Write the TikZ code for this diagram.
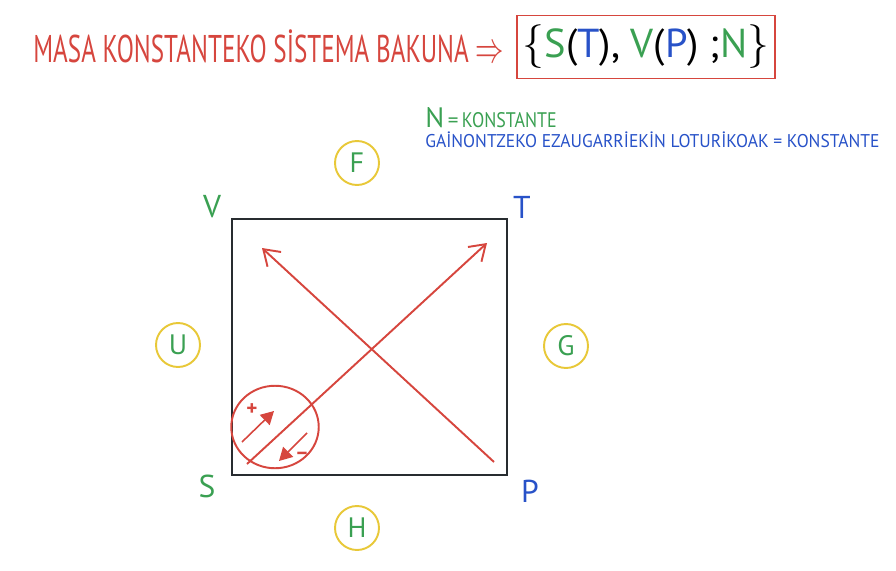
\documentclass[tikz,border=0pt]{standalone}
\usepackage{fontspec}
\usepackage{graphicx}
\setmainfont{PT Sans}
\usetikzlibrary{arrows.meta, positioning, calc, shapes.geometric}
\definecolor{penRed}{RGB}{214,70,62}
\definecolor{penGreen}{RGB}{58,160,82}
\definecolor{penBlue}{RGB}{40,82,200}
\definecolor{penYellow}{RGB}{232,200,56}
\definecolor{penBlack}{RGB}{40,44,48}
\newcommand{\squeeze}[2]{\scalebox{#1}[1]{#2}}
\tikzset{
    potNode/.style={circle, draw=penYellow, line width=1.1pt, minimum size=0.88cm, inner sep=0pt, text=penGreen, font=\fontsize{16}{18}\selectfont},
    cornerLbl/.style={font=\fontsize{18}{20}\selectfont, inner sep=0pt},
    diagArrow/.style={draw=penRed, line width=1.1pt, -{Straight Barb[length=3mm, width=4mm]}},
    signArrow/.style={draw=penRed, line width=0.9pt, -{Triangle[length=2.6mm, width=2.8mm]}}
}

\begin{document}
\begin{tikzpicture}[x=0.02cm, y=-0.02cm]
    \useasboundingbox (0,0) rectangle (896,571);
    % --- Title ---
    \node[anchor=west, text=penRed, inner sep=0pt] (title) at (33,46)
        {\fontsize{22}{24}\selectfont\squeeze{0.65}{MASA KONSTANTEKO SİSTEMA BAKUNA {\fontsize{26}{28}\selectfont$\Rightarrow$}}};
    \node[draw=penRed, line width=1.1pt, inner xsep=3pt, inner ysep=2pt, minimum width=5.08cm, minimum height=1.26cm] (vars) at (646,47)
        {\fontsize{23}{26}\selectfont$\{$\textcolor{penGreen}{S}(\textcolor{penBlue}{T}), \textcolor{penGreen}{V}(\textcolor{penBlue}{P}) ;\textcolor{penGreen}{N}$\}$};
    % --- Notes ---
    \node[anchor=west, text=penGreen, inner sep=0pt] (ncst) at (425,118)
        {\fontsize{16}{18}\selectfont N{\fontsize{12}{14}\selectfont\,=\,\squeeze{0.85}{KONSTANTE}}};
    \node[anchor=west, text=penBlue, inner sep=0pt] (rest) at (425,140)
        {\fontsize{10.5}{12}\selectfont\squeeze{0.95}{GAİNONTZEKO EZAUGARRİEKİN LOTURİKOAK = KONSTANTE}};
    % --- Square ---
    \coordinate (sw) at (232,475); \coordinate (se) at (507,475);
    \coordinate (ne) at (507,219); \coordinate (nw) at (232,219);
    \draw[penBlack, line width=1.7pt] (sw) -- (se) -- (ne) -- (nw) -- cycle;
    \node[cornerLbl, text=penGreen] (V) at (212,207) {V};
    \node[cornerLbl, text=penBlue] (T) at (522,207) {T};
    \node[cornerLbl, text=penGreen] (S) at (207,486) {S};
    \node[cornerLbl, text=penBlue] (P) at (530,491) {P};
    % --- Potentials ---
    \node[potNode] (F) at (357,163) {F};
    \node[potNode] (U) at (178,345) {U};
    \node[potNode] (G) at (566,346) {G};
    \node[potNode] (H) at (357,528) {H};
    % --- Diagonals ---
    \coordinate (pStart) at (494,462); \coordinate (vEnd) at (262,248);
    \coordinate (sStart) at (247,464); \coordinate (tEnd) at (487,243);
    \draw[diagArrow] (pStart) -- (vEnd);
    \draw[diagArrow] (sStart) -- (tEnd);
    % --- Sign circle ---
    \node[draw=penRed, line width=1.1pt, ellipse, minimum width=1.75cm, minimum height=1.65cm, inner sep=0pt] (signs) at (275,427) {};
    \coordinate (plusA) at (242,442); \coordinate (plusB) at (274,411);
    \coordinate (minusA) at (307,433); \coordinate (minusB) at (279,461);
    \draw[signArrow] (plusA) -- (plusB);
    \draw[signArrow] (minusA) -- (minusB);
    \node[text=penRed, font=\large\bfseries, inner sep=0pt] (plus) at (252,410) {+};
    \node[text=penRed, font=\large\bfseries, inner sep=0pt] (minus) at (302,456) {--};
\end{tikzpicture}
\end{document}
